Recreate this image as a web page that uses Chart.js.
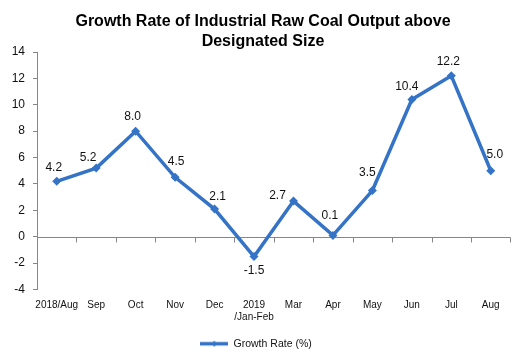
<!DOCTYPE html>
<html><head><meta charset="utf-8">
<script src="https://cdn.jsdelivr.net/npm/chart.js@4/dist/chart.umd.min.js"></script>
<style>html,body{margin:0;padding:0;background:#fff}#wrap{width:515px;height:362px}</style>
</head><body><div id="wrap"><canvas id="c" width="515" height="362"></canvas></div>
<script>
const categories = ['2018/Aug','Sep','Oct','Nov','Dec','2019\n/Jan-Feb','Mar','Apr','May','Jun','Jul','Aug'];
const growthRate = [4.2, 5.2, 8.0, 4.5, 2.1, -1.5, 2.7, 0.1, 3.5, 10.4, 12.2, 5.0];
const yTicks = [-4, -2, 0, 2, 4, 6, 8, 10, 12, 14];
const seriesName = 'Growth Rate (%)';
const titleLines = ['Growth Rate of Industrial Raw Coal Output above', 'Designated Size'];

const BLUE = '#3473C6';
const FONT = 'Arial, "Liberation Sans", sans-serif';

// label placement (pixel offsets from each point), style only
const labelOffsets = [[-3,-14],[-8,-10],[-3,-14],[1,-16],[3,-12],[0,14],[-16,-5],[-3,-20],[-5,-18],[-5,-13],[-3,-14],[4,-16]];

// legend symbol: line with small diamond
const sym = document.createElement('canvas');
sym.width = 28; sym.height = 9;
(function(){
  const g = sym.getContext('2d');
  g.strokeStyle = BLUE; g.lineWidth = 3.5;
  g.beginPath(); g.moveTo(0, 4.5); g.lineTo(28, 4.5); g.stroke();
  g.fillStyle = BLUE;
  g.beginPath(); g.moveTo(14, 1.5); g.lineTo(17, 4.5); g.lineTo(14, 7.5); g.lineTo(11, 4.5); g.closePath(); g.fill();
})();

const titlePlugin = {
  id: 'titleText',
  afterDraw(chart) {
    const {ctx} = chart;
    ctx.save();
    ctx.font = 'bold 16px ' + FONT;
    ctx.fillStyle = '#000';
    ctx.textAlign = 'center';
    ctx.textBaseline = 'middle';
    titleLines.forEach((t, i) => ctx.fillText(t, 263, 22 + i * 20));
    ctx.restore();
  }
};

const zeroLine = {
  id: 'zeroLine',
  beforeDatasetsDraw(chart) {
    const {ctx, chartArea, scales: {x, y}} = chart;
    const y0 = Math.round(y.getPixelForValue(0)) + 0.5;
    ctx.save();
    ctx.strokeStyle = '#868686'; ctx.lineWidth = 1;
    ctx.beginPath(); ctx.moveTo(chartArea.left, y0); ctx.lineTo(chartArea.right, y0); ctx.stroke();
    const n = categories.length;
    for (let i = 0; i < n; i++) {
      const px = i < n - 1
        ? Math.round((x.getPixelForValue(i) + x.getPixelForValue(i + 1)) / 2) + 0.5
        : Math.round(chartArea.right) - 0.5;
      ctx.beginPath(); ctx.moveTo(px, y0); ctx.lineTo(px, y0 + 5); ctx.stroke();
    }
    ctx.restore();
  }
};

const dataLabels = {
  id: 'dataLabels',
  afterDatasetsDraw(chart) {
    const {ctx} = chart;
    const meta = chart.getDatasetMeta(0);
    ctx.save();
    ctx.font = '12px ' + FONT;
    ctx.fillStyle = '#111';
    ctx.textAlign = 'center';
    ctx.textBaseline = 'middle';
    meta.data.forEach((pt, i) => {
      const off = labelOffsets[i] || [0, -14];
      ctx.fillText(growthRate[i].toFixed(1), pt.x + off[0], pt.y + off[1]);
    });
    ctx.restore();
  }
};

new Chart(document.getElementById('c'), {
  type: 'line',
  data: {
    labels: categories.map(c => c.includes('\n') ? c.split('\n') : c),
    datasets: [{
      label: seriesName,
      data: growthRate,
      borderColor: BLUE,
      backgroundColor: BLUE,
      borderWidth: 3.5,
      pointStyle: 'rectRot',
      pointRadius: 4.5,
      pointHoverRadius: 4.5,
      pointBorderWidth: 0,
      tension: 0,
      fill: false
    }]
  },
  options: {
    responsive: false,
    animation: false,
    devicePixelRatio: 1,
    layout: { padding: { left: 0, right: 3, top: 52, bottom: 3 } },
    plugins: {
      title: { display: false },
      legend: {
        position: 'bottom',
        labels: {
          usePointStyle: true,
          pointStyle: sym,
          pointStyleWidth: 28,
          color: '#111',
          font: { family: FONT, size: 10.5 },
          padding: 13,
          boxHeight: 9
        }
      },
      tooltip: { enabled: false }
    },
    scales: {
      x: {
        offset: true,
        grid: { display: false, drawTicks: false },
        border: { display: false },
        ticks: {
          color: '#111',
          font: { family: FONT, size: 10 },
          padding: 10,
          maxRotation: 0,
          autoSkip: false
        },
        afterFit(s) { s.height = 36; }
      },
      y: {
        min: -4, max: 14,
        afterBuildTicks(s) { s.ticks = yTicks.map(v => ({ value: v })); },
        grid: { display: true, drawOnChartArea: false, drawTicks: true, tickLength: 4, color: '#868686' },
        border: { display: true, color: '#868686', width: 1 },
        ticks: {
          color: '#111',
          font: { family: FONT, size: 12 },
          padding: 8
        },
        afterFit(s) { s.width = 37; }
      }
    }
  },
  plugins: [zeroLine, dataLabels, titlePlugin]
});
</script>
</body></html>
